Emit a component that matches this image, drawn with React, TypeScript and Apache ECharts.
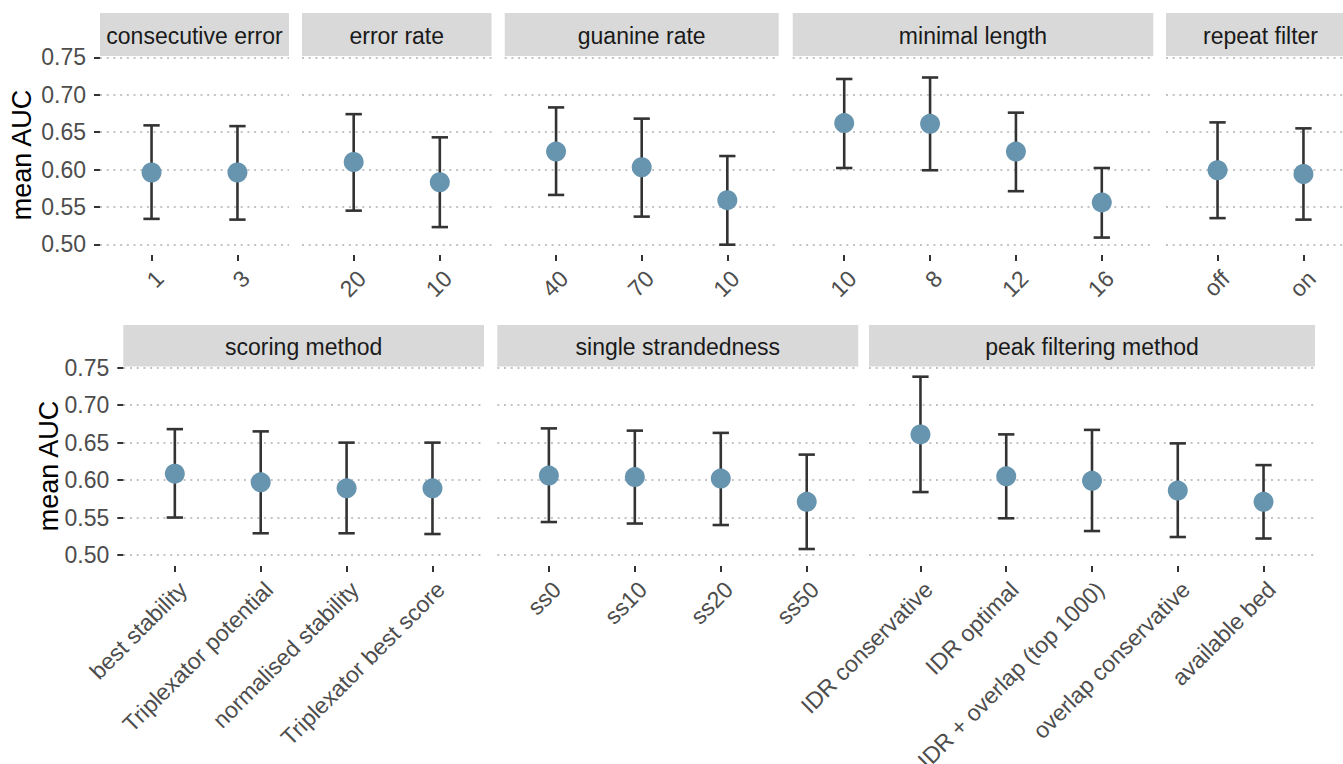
import React, { useEffect, useRef } from "react";
import * as echarts from "echarts";

// ---------- data ----------
const facetNames = [
  "consecutive error",
  "error rate",
  "guanine rate",
  "minimal length",
  "repeat filter",
  "scoring method",
  "single strandedness",
  "peak filtering method",
];

const consecutiveErrorCats = ["1", "3"];
const consecutiveErrorMean = [0.596, 0.596];
const consecutiveErrorLower = [0.534, 0.533];
const consecutiveErrorUpper = [0.659, 0.658];

const errorRateCats = ["20", "10"];
const errorRateMean = [0.61, 0.583];
const errorRateLower = [0.545, 0.523];
const errorRateUpper = [0.674, 0.643];

const guanineRateCats = ["40", "70", "10"];
const guanineRateMean = [0.624, 0.603, 0.559];
const guanineRateLower = [0.566, 0.537, 0.4995];
const guanineRateUpper = [0.683, 0.668, 0.618];

const minimalLengthCats = ["10", "8", "12", "16"];
const minimalLengthMean = [0.662, 0.661, 0.624, 0.556];
const minimalLengthLower = [0.602, 0.599, 0.571, 0.509];
const minimalLengthUpper = [0.721, 0.723, 0.676, 0.602];

const repeatFilterCats = ["off", "on"];
const repeatFilterMean = [0.599, 0.594];
const repeatFilterLower = [0.535, 0.533];
const repeatFilterUpper = [0.663, 0.655];

const scoringMethodCats = ["best stability", "Triplexator potential", "normalised stability", "Triplexator best score"];
const scoringMethodMean = [0.6085, 0.597, 0.589, 0.589];
const scoringMethodLower = [0.55, 0.529, 0.529, 0.528];
const scoringMethodUpper = [0.668, 0.665, 0.65, 0.65];

const singleStrandCats = ["ss0", "ss10", "ss20", "ss50"];
const singleStrandMean = [0.606, 0.604, 0.602, 0.571];
const singleStrandLower = [0.544, 0.542, 0.54, 0.508];
const singleStrandUpper = [0.669, 0.666, 0.663, 0.634];

const peakFilterCats = ["IDR conservative", "IDR optimal", "IDR + overlap (top 1000)", "overlap conservative", "available bed"];
const peakFilterMean = [0.661, 0.605, 0.599, 0.586, 0.571];
const peakFilterLower = [0.584, 0.549, 0.532, 0.524, 0.522];
const peakFilterUpper = [0.738, 0.661, 0.667, 0.649, 0.62];

const yTicks = [0.5, 0.55, 0.6, 0.65, 0.7, 0.75];
const yTitle = "mean AUC";

const facetCats = [consecutiveErrorCats, errorRateCats, guanineRateCats, minimalLengthCats, repeatFilterCats, scoringMethodCats, singleStrandCats, peakFilterCats];
const facetMean = [consecutiveErrorMean, errorRateMean, guanineRateMean, minimalLengthMean, repeatFilterMean, scoringMethodMean, singleStrandMean, peakFilterMean];
const facetLower = [consecutiveErrorLower, errorRateLower, guanineRateLower, minimalLengthLower, repeatFilterLower, scoringMethodLower, singleStrandLower, peakFilterLower];
const facetUpper = [consecutiveErrorUpper, errorRateUpper, guanineRateUpper, minimalLengthUpper, repeatFilterUpper, scoringMethodUpper, singleStrandUpper, peakFilterUpper];

// ---------- layout ----------
const rows = [
  { gridTop: 57.3, gridHeight: 187, stripTop: 13, axisOffset: 10.7, titleX: 21.5, titleY: 155 },
  { gridTop: 367.7, gridHeight: 187.3, stripTop: 325, axisOffset: 11, titleX: 49, titleY: 466 },
];
const panels = [
  { row: 0, left: 100, width: 189 },
  { row: 0, left: 302, width: 189.5 },
  { row: 0, left: 504.7, width: 274 },
  { row: 0, left: 792.7, width: 360.6 },
  { row: 0, left: 1166, width: 189 },
  { row: 1, left: 123.3, width: 360.7 },
  { row: 1, left: 497.3, width: 361 },
  { row: 1, left: 869, width: 446 },
];

const FONT = "'Liberation Sans', Arial, Helvetica, sans-serif";
const POINT_COLOR = "#6795AF";
const BAR_COLOR = "#333333";
const GRID_COLOR = "#C4C4C4";
const STRIP_COLOR = "#D9D9D9";
const CAP_HALF = 0.095;
const FS = 23;

function buildOption() {
  const grid: any[] = [];
  const xAxis: any[] = [];
  const yAxis: any[] = [];
  const series: any[] = [];
  const graphic: any[] = [];

  panels.forEach((p, i) => {
    const r = rows[p.row];
    const cats = facetCats[i];
    const n = cats.length;
    const showY = i === 0 || i === 5;
    grid.push({
      left: p.left,
      top: r.gridTop,
      width: p.width,
      height: r.gridHeight,
      containLabel: false,
      outerBoundsMode: "none",
    });
    const positions = cats.map((_, k) => k + 1);
    xAxis.push({
      type: "value",
      gridIndex: i,
      min: 0.4,
      max: n + 0.6,
      offset: r.axisOffset,
      axisLine: { show: false },
      splitLine: { show: false },
      axisTick: { show: true, customValues: positions, length: 6, lineStyle: { color: BAR_COLOR, width: 2 } },
      axisLabel: {
        show: true,
        customValues: positions,
        rotate: 45,
        align: "right",
        verticalAlign: "top",
        margin: 11.5,
        color: "#4D4D4D",
        fontSize: FS,
        fontFamily: FONT,
        hideOverlap: false,
        formatter: (v: number) => cats[Math.round(v) - 1] ?? "",
      },
    });
    yAxis.push({
      type: "value",
      gridIndex: i,
      min: yTicks[0],
      max: yTicks[yTicks.length - 1],
      interval: 0.05,
      axisLine: { show: false },
      axisTick: { show: showY, length: 6, lineStyle: { color: BAR_COLOR, width: 2 } },
      axisLabel: {
        show: showY,
        margin: 14,
        color: "#4D4D4D",
        fontSize: FS,
        fontFamily: FONT,
        formatter: (v: number) => v.toFixed(2),
      },
      splitLine: { show: true, lineStyle: { color: GRID_COLOR, width: 2, type: [2, 4.7] } },
    });
    const barData = cats.map((_, k) => [k + 1, facetLower[i][k], facetUpper[i][k]]);
    series.push({
      type: "custom",
      xAxisIndex: i,
      yAxisIndex: i,
      clip: false,
      z: 2,
      encode: { x: 0, y: [1, 2] },
      data: barData,
      renderItem: (params: any, api: any) => {
        const x = api.value(0);
        const lo = api.value(1);
        const hi = api.value(2);
        const pHi = api.coord([x, hi]);
        const pLo = api.coord([x, lo]);
        const xl = api.coord([x - CAP_HALF, hi])[0];
        const xr = api.coord([x + CAP_HALF, hi])[0];
        const style = { stroke: BAR_COLOR, lineWidth: 2.6 };
        return {
          type: "group",
          children: [
            { type: "line", shape: { x1: pHi[0], y1: pHi[1], x2: pLo[0], y2: pLo[1] }, style },
            { type: "line", shape: { x1: xl, y1: pHi[1], x2: xr, y2: pHi[1] }, style },
            { type: "line", shape: { x1: xl, y1: pLo[1], x2: xr, y2: pLo[1] }, style },
          ],
        };
      },
    });
    series.push({
      type: "scatter",
      xAxisIndex: i,
      yAxisIndex: i,
      clip: false,
      z: 3,
      symbol: "circle",
      symbolSize: 20,
      itemStyle: { color: POINT_COLOR, opacity: 1 },
      data: cats.map((_, k) => [k + 1, facetMean[i][k]]),
    });
    // strip
    const stripH = r.gridTop - r.stripTop - 1.2;
    graphic.push({
      type: "rect",
      shape: { x: p.left, y: r.stripTop, width: p.width, height: stripH },
      style: { fill: STRIP_COLOR },
      silent: true,
    });
    graphic.push({
      type: "text",
      x: p.left + p.width / 2,
      y: r.stripTop + stripH / 2 + 1,
      style: {
        text: facetNames[i],
        fill: "#1A1A1A",
        fontSize: FS,
        fontFamily: FONT,
        align: "center",
        verticalAlign: "middle",
      },
      silent: true,
    });
  });

  rows.forEach((r) => {
    graphic.push({
      type: "text",
      x: r.titleX,
      y: r.titleY,
      rotation: Math.PI / 2,
      style: {
        text: yTitle,
        fill: "#000000",
        fontSize: 27,
        fontFamily: FONT,
        align: "center",
        verticalAlign: "middle",
      },
      silent: true,
    });
  });

  return {
    animation: false,
    backgroundColor: "#FFFFFF",
    textStyle: { fontFamily: FONT },
    grid,
    xAxis,
    yAxis,
    series,
    graphic,
  };
}

export default function App() {
  const ref = useRef<HTMLDivElement>(null);
  useEffect(() => {
    if (!ref.current) return;
    const chart = echarts.init(ref.current, undefined, { renderer: "svg" });
    chart.setOption(buildOption() as any);
    return () => chart.dispose();
  }, []);
  return (
    <div
      ref={ref}
      style={{ position: "absolute", left: 0, top: 0, width: 1343, height: 764, background: "#FFFFFF" }}
    />
  );
}
